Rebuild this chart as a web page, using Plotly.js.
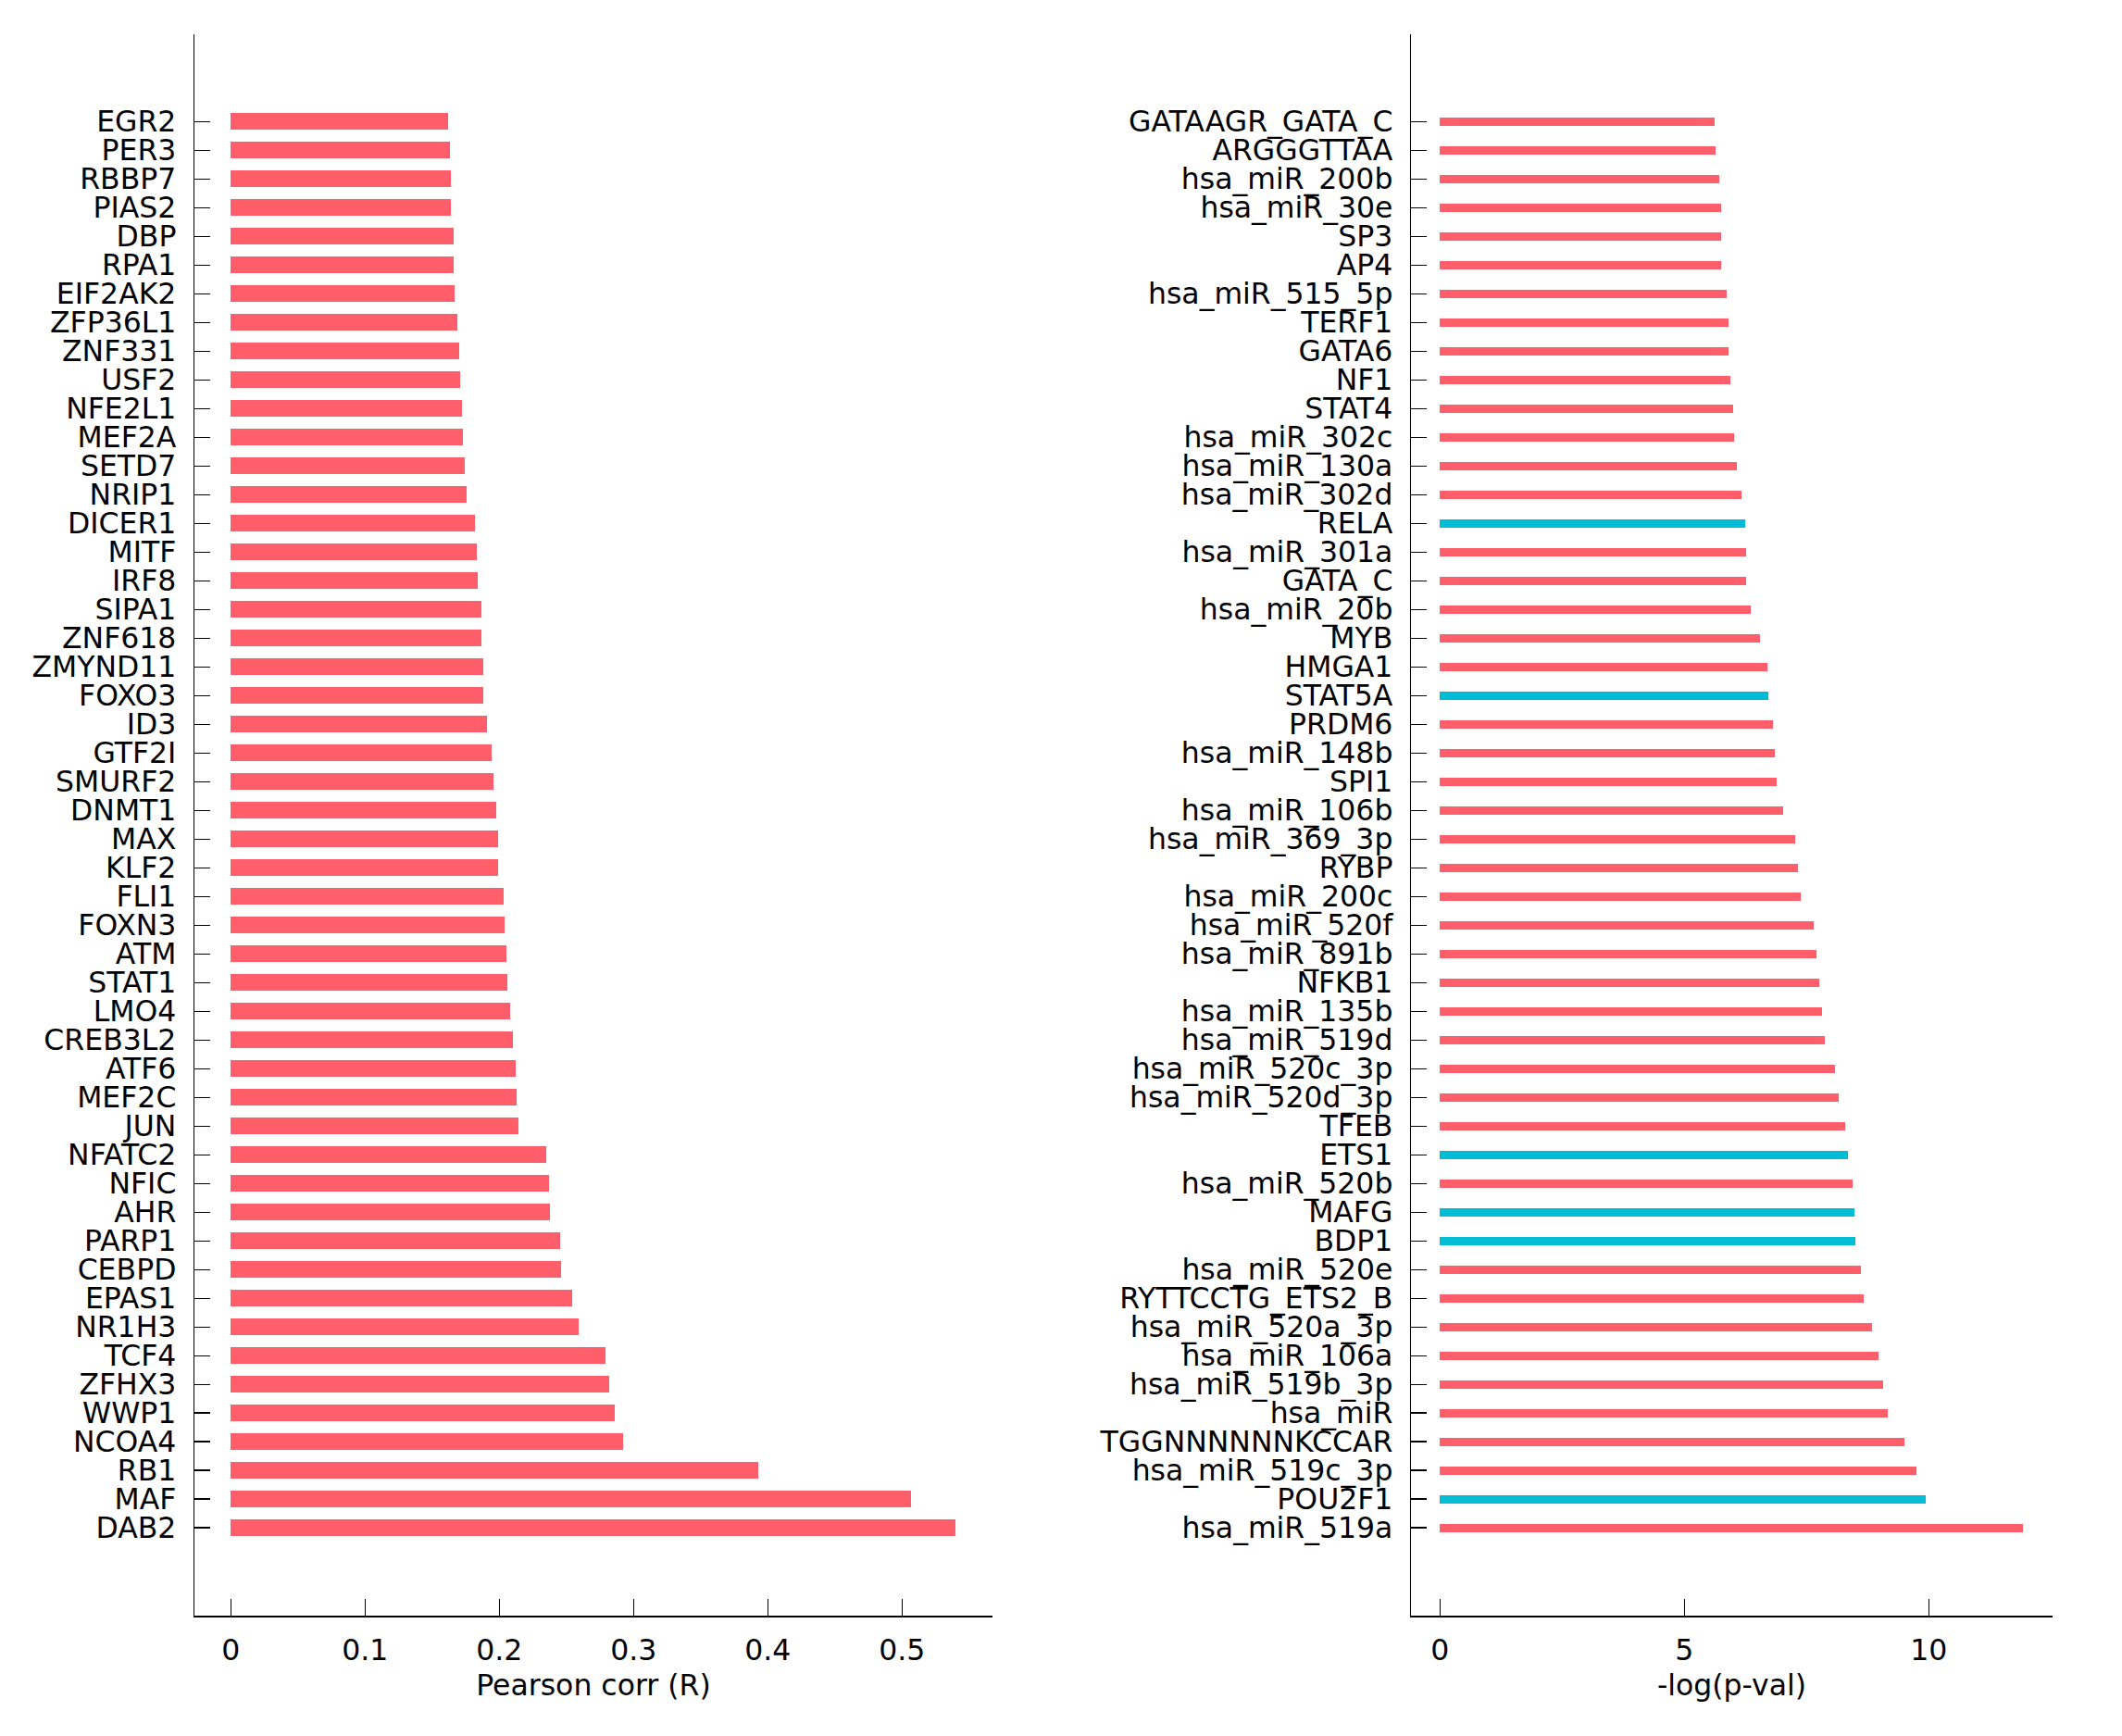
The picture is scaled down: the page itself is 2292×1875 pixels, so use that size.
<!DOCTYPE html>
<html>
<head>
<meta charset="utf-8">
<script src="https://cdn.plot.ly/plotly-3.0.1.min.js"></script>
<style>
  html, body { margin: 0; padding: 0; background: #ffffff; }
  #chart { width: 2292px; height: 1875px; }
</style>
</head>
<body>
<div id="chart"></div>
<script>
// ---- Data (top-to-bottom order as shown) ----
const genes = ["EGR2","PER3","RBBP7","PIAS2","DBP","RPA1","EIF2AK2","ZFP36L1","ZNF331","USF2",
  "NFE2L1","MEF2A","SETD7","NRIP1","DICER1","MITF","IRF8","SIPA1","ZNF618","ZMYND11",
  "FOXO3","ID3","GTF2I","SMURF2","DNMT1","MAX","KLF2","FLI1","FOXN3","ATM",
  "STAT1","LMO4","CREB3L2","ATF6","MEF2C","JUN","NFATC2","NFIC","AHR","PARP1",
  "CEBPD","EPAS1","NR1H3","TCF4","ZFHX3","WWP1","NCOA4","RB1","MAF","DAB2"];
const pearson = [0.162,0.163,0.164,0.164,0.166,0.166,0.167,0.169,0.170,0.171,
  0.172,0.173,0.174,0.176,0.182,0.183,0.184,0.187,0.187,0.188,
  0.188,0.191,0.194,0.196,0.198,0.199,0.199,0.203,0.204,0.205,
  0.206,0.208,0.210,0.212,0.213,0.214,0.235,0.237,0.238,0.245,
  0.246,0.254,0.259,0.279,0.282,0.286,0.292,0.393,0.507,0.540];

const regulators = ["GATAAGR_GATA_C","ARGGGTTAA","hsa_miR_200b","hsa_miR_30e","SP3","AP4","hsa_miR_515_5p","TERF1","GATA6","NF1",
  "STAT4","hsa_miR_302c","hsa_miR_130a","hsa_miR_302d","RELA","hsa_miR_301a","GATA_C","hsa_miR_20b","MYB","HMGA1",
  "STAT5A","PRDM6","hsa_miR_148b","SPI1","hsa_miR_106b","hsa_miR_369_3p","RYBP","hsa_miR_200c","hsa_miR_520f","hsa_miR_891b",
  "NFKB1","hsa_miR_135b","hsa_miR_519d","hsa_miR_520c_3p","hsa_miR_520d_3p","TFEB","ETS1","hsa_miR_520b","MAFG","BDP1",
  "hsa_miR_520e","RYTTCCTG_ETS2_B","hsa_miR_520a_3p","hsa_miR_106a","hsa_miR_519b_3p","hsa_miR","TGGNNNNNNKCCAR","hsa_miR_519c_3p","POU2F1","hsa_miR_519a"];
const negLogP = [5.61,5.64,5.72,5.75,5.76,5.76,5.86,5.91,5.91,5.94,
  5.99,6.02,6.08,6.16,6.24,6.27,6.27,6.35,6.55,6.69,
  6.71,6.82,6.85,6.88,7.02,7.27,7.32,7.38,7.65,7.71,
  7.76,7.82,7.87,8.09,8.15,8.29,8.34,8.45,8.48,8.49,
  8.62,8.67,8.84,8.98,9.06,9.17,9.51,9.75,9.94,11.93];
const highlighted = ["RELA","STAT5A","ETS1","MAFG","BDP1","POU2F1"];

const leftTitle = "Pearson corr (R)";
const rightTitle = "-log(p-val)";
const leftTicks = [0, 0.1, 0.2, 0.3, 0.4, 0.5];
const leftTickText = ["0", "0.1", "0.2", "0.3", "0.4", "0.5"];
const rightTicks = [0, 5, 10];
const rightTickText = ["0", "5", "10"];

// ---- Styling ----
const RED = "#ff5e6a";
const CYAN = "#00bcd4";
const FONT = "DejaVu Sans, Verdana, sans-serif";
const W = 2292, H = 1875;

const tr1 = {
  type: "bar", orientation: "h",
  x: pearson, y: genes,
  xaxis: "x", yaxis: "y",
  width: 0.59,
  marker: { color: RED, line: { width: 0 } },
  hoverinfo: "x+y"
};
const tr2 = {
  type: "bar", orientation: "h",
  x: negLogP, y: regulators,
  xaxis: "x2", yaxis: "y2",
  width: 0.29,
  marker: { color: regulators.map(r => highlighted.includes(r) ? CYAN : RED), line: { width: 0 } },
  hoverinfo: "x+y"
};

const yTop = 37, yBot = 1745.3;
const yDomain = [(H - yBot) / H, (H - yTop) / H];
const yRange = [52.07, -3.04];

function yAxis(cats) {
  return {
    domain: yDomain,
    type: "category",
    categoryorder: "array",
    categoryarray: cats,
    range: yRange,
    autorange: false,
    tickmode: "array", tickvals: cats, ticktext: cats,
    showline: true, linecolor: "#000", linewidth: 1.6,
    ticks: "inside", ticklen: 17, tickwidth: 1.3, tickcolor: "#000",
    ticklabelstandoff: 12,
    showgrid: false, zeroline: false,
    tickfont: { family: FONT, size: 31.5, color: "#000" },
    automargin: false,
    fixedrange: true
  };
}
function xAxis(domain, range, tv, tt, title) {
  return {
    domain: domain,
    range: range,
    autorange: false,
    tickmode: "array", tickvals: tv, ticktext: tt,
    showline: true, linecolor: "#000", linewidth: 1.6,
    ticks: "inside", ticklen: 18, tickwidth: 1.3, tickcolor: "#000",
    ticklabelstandoff: 8,
    showgrid: false, zeroline: false,
    tickfont: { family: FONT, size: 31.5, color: "#000" },
    title: { text: title, font: { family: FONT, size: 31.5, color: "#000" }, standoff: 10 },
    automargin: false,
    fixedrange: true
  };
}

const layout = {
  width: W, height: H,
  margin: { l: 0, r: 0, t: 0, b: 0, pad: 0 },
  paper_bgcolor: "#fff", plot_bgcolor: "#fff",
  showlegend: false,
  bargap: 0,
  xaxis: xAxis([210.3 / W, 1071.7 / W], [-0.0269, 0.5672], leftTicks, leftTickText, leftTitle),
  yaxis: Object.assign(yAxis(genes), { anchor: "x" }),
  xaxis2: Object.assign(xAxis([1524.3 / W, 2216.7 / W], [-0.587, 12.526], rightTicks, rightTickText, rightTitle), { anchor: "y2" }),
  yaxis2: Object.assign(yAxis(regulators), { anchor: "x2" })
};
layout.xaxis.anchor = "y";

Plotly.newPlot("chart", [tr1, tr2], layout, { displayModeBar: false, staticPlot: true });
</script>
</body>
</html>
